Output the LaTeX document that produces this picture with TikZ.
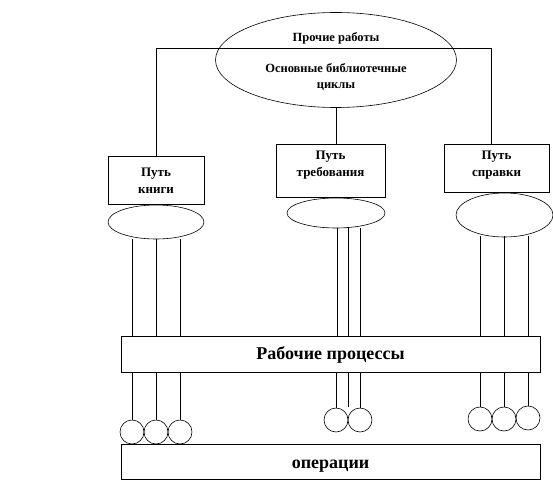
\documentclass[tikz,border=0pt]{standalone}
\usepackage{fontspec}
\setmainfont{Liberation Serif}
\usetikzlibrary{shapes.geometric}
\begin{document}
\begin{tikzpicture}[x=1pt,y=-1pt,line width=0.6pt,
  box/.style={draw,rectangle,inner sep=0pt},
  oval/.style={draw,ellipse,inner sep=0pt},
  ball/.style={draw,circle,minimum size=24pt,inner sep=0pt},
  lbl/.style={font=\bfseries\fontsize{12.5}{16}\selectfont,align=center,inner sep=0pt},
  blbl/.style={font=\bfseries\fontsize{13}{17}\selectfont,align=center,inner sep=0pt},
  big/.style={font=\bfseries\fontsize{18}{20}\selectfont,inner sep=0pt,anchor=base}]
\useasboundingbox (0,0) rectangle (553,492);
% top ellipse
\node[oval,minimum width=241pt,minimum height=95pt] (E) at (336,60) {};
\node[lbl] (Et) at (336,38) {Прочие работы};
\node[lbl] (Eb) at (336,77) {Основные библиотечные\\циклы};
% path boxes
\node[box,minimum width=96pt,minimum height=48pt] (b1) at (156,180) {};
\node[box,minimum width=109pt,minimum height=53pt] (b2) at (330.5,170.5) {};
\node[box,minimum width=105pt,minimum height=48pt] (b3) at (496.5,168) {};
\node[blbl] (t1) at (156,181) {Путь\\книги};
\node[blbl] (t2) at (330.5,165) {Путь\\требования};
\node[blbl] (t3) at (496.5,165) {Путь\\справки};
% small ellipses
\node[oval,minimum width=96pt,minimum height=34pt] (e1) at (156,222) {};
\node[oval,minimum width=98pt,minimum height=30pt] (e2) at (336,213) {};
\node[oval,minimum width=97pt,minimum height=44pt] (e3) at (504.5,215) {};
% process boxes
\node[box,minimum width=419pt,minimum height=36pt] (wp) at (330.5,354) {};
\node[big] (wpt) at (330.5,359.5) {Рабочие процессы};
\node[box,minimum width=419pt,minimum height=35pt] (op) at (330.5,461.5) {};
\node[big] (opt) at (330.5,468) {операции};
% circles
\node[ball] (c11) at (132,432) {};
\node[ball] (c12) at (156,432) {};
\node[ball] (c13) at (180,432) {};
\node[ball] (c21) at (336,420) {};
\node[ball] (c22) at (360,420) {};
\node[ball] (c31) at (480,419) {};
\node[ball] (c32) at (504,419) {};
\node[ball] (c33) at (528,418) {};
% top connectors
\coordinate (tl) at (156,48);
\coordinate (tr) at (491,48);
\draw (b1.north -| tl) -- (tl) -- (tr) -- (tr |- b3.north);
\draw (E.south) -- (E.south |- b2.north);
% ellipse to process box
\foreach \x in {132,156,180}{
  \draw (\x,238.5) -- (\x,336);}
\foreach \x in {337,348.5,360}{
  \draw (\x,227.5) -- (\x,336);}
\foreach \x in {480,504,528}{
  \draw (\x,236) -- (\x,336);}
% process box to circles
\draw (c11.north |- wp.south) -- (c11.north);
\draw (c12.north |- wp.south) -- (c12.north);
\draw (c13.north |- wp.south) -- (c13.north);
\draw (c21.north |- wp.south) -- (c21.north);
\coordinate (m2) at (348,407);
\draw (m2 |- wp.south) -- (m2);
\draw (c22.north |- wp.south) -- (c22.north);
\draw (c31.north |- wp.south) -- (c31.north);
\draw (c32.north |- wp.south) -- (c32.north);
\draw (c33.north |- wp.south) -- (c33.north);
\end{tikzpicture}
\end{document}
